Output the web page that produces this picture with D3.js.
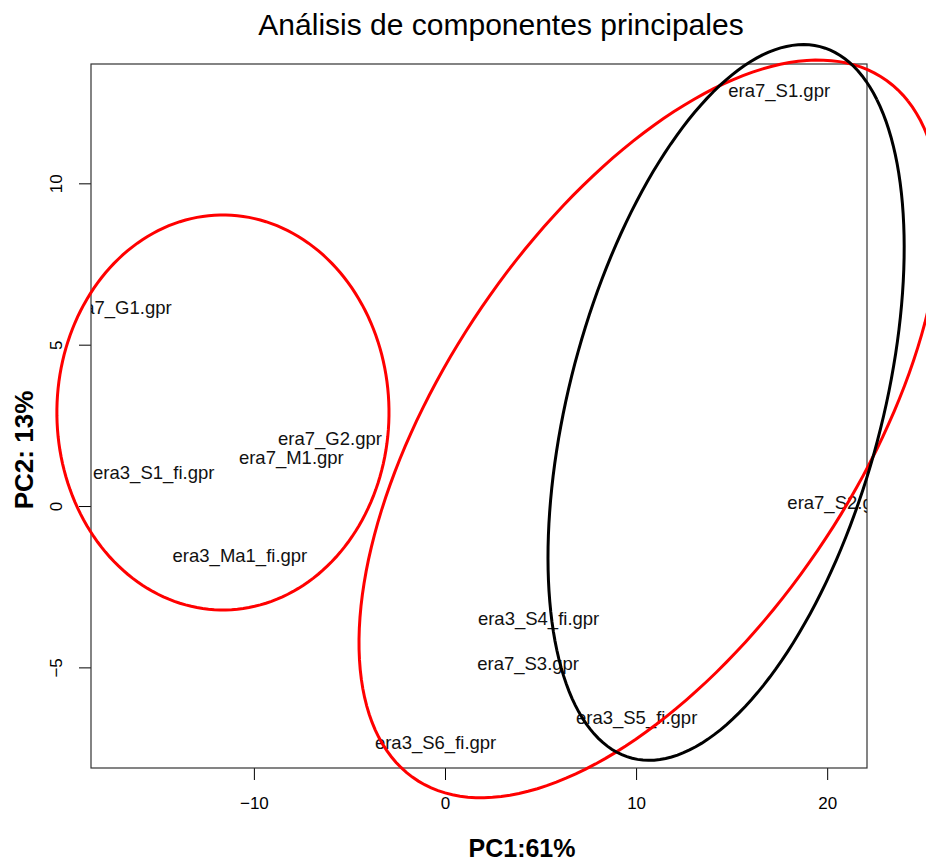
<!DOCTYPE html>
<html>
<head>
<meta charset="utf-8">
<script src="https://cdn.jsdelivr.net/npm/d3@7"></script>
<style>
  body { margin: 0; background: #fff; }
  svg text { font-family: "Liberation Sans", Arial, Helvetica, sans-serif; }
</style>
</head>
<body>
<div id="chart"></div>
<script>
const samples = ["era7_S1.gpr", "era7_G1.gpr", "era7_G2.gpr", "era7_M1.gpr", "era3_S1_fi.gpr",
  "era3_Ma1_fi.gpr", "era3_S4_fi.gpr", "era7_S3.gpr", "era3_S5_fi.gpr", "era3_S6_fi.gpr", "era7_S2.gpr"];
const pc1 = [17.49, -17.02, -6.02, -8.04, -15.24, -10.73, 4.90, 4.35, 10.03, -0.49, 20.58];
const pc2 = [12.89, 6.15, 2.09, 1.51, 1.04, -1.52, -3.48, -4.87, -6.54, -7.31, 0.12];

const xTicks = [-10, 0, 10, 20];
const yTicks = [-5, 0, 5, 10];

// group ellipses: centre, half widths, correlation
const ellCx = [-11.62, 10.71, 14.71];
const ellCy = [2.90, 2.39, 3.21];
const ellSx = [8.69, 15.21, 9.32];
const ellSy = [6.12, 11.43, 11.09];
const ellR = [0, 0.58, 0.433];
const ellColor = ["#ff0000", "#ff0000", "#000000"];

const width = 926;
const height = 863;
const plotL = 91, plotR = 867, plotT = 64, plotB = 768;

const svg = d3.select("#chart").append("svg")
  .attr("width", width)
  .attr("height", height);

// R style range: data extent plus 4%
const pad = (ext) => {
  const d = (ext[1] - ext[0]) * 0.04;
  return [ext[0] - d, ext[1] + d];
};
const x = d3.scaleLinear().domain(pad(d3.extent(pc1))).range([plotL, plotR]);
const y = d3.scaleLinear().domain(pad(d3.extent(pc2))).range([plotB, plotT]);

svg.append("defs").append("clipPath").attr("id", "plotclip")
  .append("rect")
  .attr("x", plotL).attr("y", plotT)
  .attr("width", plotR - plotL).attr("height", plotB - plotT);

// axes
const xAxis = svg.append("g")
  .attr("transform", `translate(0,${plotB})`)
  .call(d3.axisBottom(x).tickValues(xTicks).tickSize(12).tickPadding(17).tickFormat(d3.format("d")));
xAxis.select(".domain").remove();
xAxis.selectAll(".tick line").attr("stroke", "#000");
xAxis.selectAll(".tick text")
  .attr("font-size", 17)
  .attr("fill", "#000")
  .text(d => d < 0 ? "\u2212" + Math.abs(d) : d);

const yAxis = svg.append("g")
  .attr("transform", `translate(${plotL},0)`)
  .call(d3.axisLeft(y).tickValues(yTicks).tickSize(12).tickFormat(d3.format("d")));
yAxis.select(".domain").remove();
yAxis.selectAll(".tick line").attr("stroke", "#000");
yAxis.selectAll(".tick text")
  .attr("font-size", 17)
  .attr("fill", "#000")
  .attr("x", null).attr("dy", null)
  .attr("text-anchor", "middle")
  .attr("transform", "translate(-29,0) rotate(-90)")
  .text(d => d < 0 ? "\u2212" + Math.abs(d) : d);

// box
svg.append("rect")
  .attr("x", plotL).attr("y", plotT)
  .attr("width", plotR - plotL).attr("height", plotB - plotT)
  .attr("fill", "none")
  .attr("stroke", "#333")
  .attr("stroke-width", 1.2);

// sample labels (clipped to plot region like R)
svg.append("g")
  .attr("clip-path", "url(#plotclip)")
  .selectAll("text")
  .data(samples)
  .enter()
  .append("text")
  .attr("x", (d, i) => x(pc1[i]))
  .attr("y", (d, i) => y(pc2[i]))
  .attr("dy", "0.36em")
  .attr("text-anchor", "middle")
  .attr("font-size", 18.5)
  .attr("fill", "#111")
  .text(d => d);

// ellipses, not clipped
const ellLine = d3.line().x(p => x(p[0])).y(p => y(p[1]));
const angles = d3.range(0, 361, 2).map(a => a * Math.PI / 180);
ellCx.forEach((cx, k) => {
  const dd = Math.acos(ellR[k]);
  const pts = angles.map(a => [
    cx + ellSx[k] * Math.cos(a + dd / 2),
    ellCy[k] + ellSy[k] * Math.cos(a - dd / 2)
  ]);
  svg.append("path")
    .attr("d", ellLine(pts))
    .attr("fill", "none")
    .attr("stroke", ellColor[k])
    .attr("stroke-width", 3);
});

// titles
svg.append("text")
  .attr("x", 501)
  .attr("y", 35)
  .attr("text-anchor", "middle")
  .attr("font-size", 30)
  .text("Análisis de componentes principales");

svg.append("text")
  .attr("x", 522)
  .attr("y", 857)
  .attr("text-anchor", "middle")
  .attr("font-size", 25)
  .attr("font-weight", "bold")
  .text("PC1:61%");

svg.append("text")
  .attr("transform", "translate(33,450) rotate(-90)")
  .attr("text-anchor", "middle")
  .attr("font-size", 26)
  .attr("font-weight", "bold")
  .text("PC2: 13%");
</script>
</body>
</html>
